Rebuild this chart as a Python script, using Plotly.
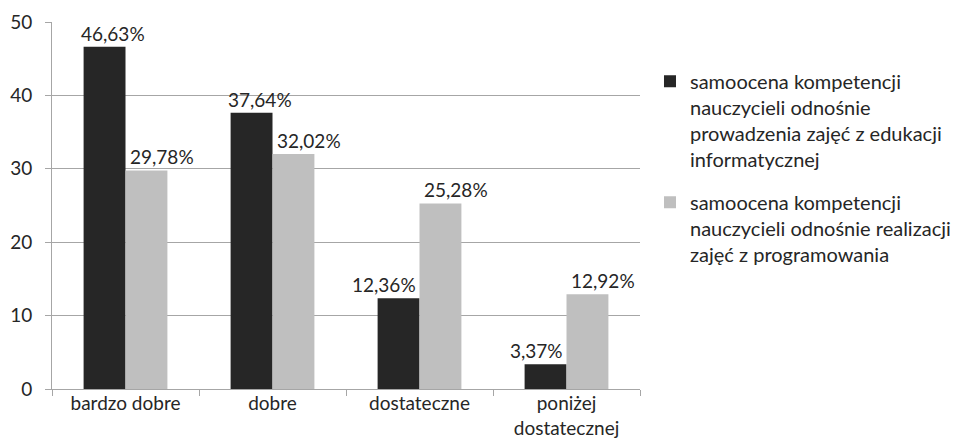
import plotly.graph_objects as go

categories = ["bardzo dobre", "dobre", "dostateczne", "poniżej<br>dostatecznej"]
series1_name = "samoocena kompetencji<br>nauczycieli odnośnie<br>prowadzenia zajęć z edukacji<br>informatycznej"
series2_name = "samoocena kompetencji<br>nauczycieli odnośnie realizacji<br>zajęć z programowania"
series1 = [46.63, 37.64, 12.36, 3.37]
series2 = [29.78, 32.02, 25.28, 12.92]
y_ticks = [0, 10, 20, 30, 40, 50]

FONT = "Lato"
TXT = "#262626"
COLORS = ["#262626", "#BFBFBF"]
BAR_PX = 42  # approximate pixel width of one bar

fig = go.Figure()
for vals, name, grp, col in [(series1, series1_name, "a", COLORS[0]),
                             (series2, series2_name, "b", COLORS[1])]:
    fig.add_trace(go.Bar(
        x=categories, y=vals, name=name, legendgroup=grp,
        marker=dict(color=col, line=dict(width=0)),
    ))

def fmt(v):
    return f"{v:.2f}".replace(".", ",") + "%"

# value labels (Excel-like placement that avoids the neighbouring bar)
for c, v1, v2 in zip(categories, series1, series2):
    if v2 > v1:
        fig.add_annotation(x=c, y=v1, text=fmt(v1), showarrow=False,
                           xanchor="right", yanchor="bottom", xshift=-2, yshift=0,
                           font=dict(family=FONT, size=19, color=TXT))
    else:
        fig.add_annotation(x=c, y=v1, text=fmt(v1), showarrow=False,
                           xanchor="center", yanchor="bottom",
                           xshift=-BAR_PX / 2 + 8, yshift=0,
                           font=dict(family=FONT, size=19, color=TXT))
    fig.add_annotation(x=c, y=v2, text=fmt(v2), showarrow=False,
                       xanchor="left", yanchor="bottom", xshift=2, yshift=0,
                       font=dict(family=FONT, size=19, color=TXT))

fig.update_layout(
    width=963, height=441,
    margin=dict(l=52, r=323, t=22, b=52, autoexpand=False),
    paper_bgcolor="white", plot_bgcolor="white",
    barmode="group", bargap=0.43, bargroupgap=0,
    font=dict(family=FONT, size=19, color=TXT),
    showlegend=True,
    legend=dict(
        x=1.017, y=0.892, xanchor="left", yanchor="top",
        font=dict(family=FONT, size=20, color=TXT),
        tracegroupgap=14, itemwidth=30, traceorder="grouped", valign="top",
        bgcolor="rgba(0,0,0,0)",
    ),
)
fig.update_xaxes(
    showgrid=False, showline=True, linecolor="#A6A6A6", linewidth=1,
    ticks="outside", tickson="boundaries", ticklen=6, tickcolor="#A6A6A6",
    tickfont=dict(family=FONT, size=19, color=TXT), automargin=False,
    ticklabelstandoff=-3,
)
fig.update_yaxes(
    range=[0, 50], tickvals=y_ticks, showgrid=True, gridcolor="#A6A6A6", gridwidth=1,
    showline=True, linecolor="#A6A6A6", linewidth=1,
    ticks="outside", ticklen=6, tickcolor="#A6A6A6",
    tickfont=dict(family=FONT, size=19, color=TXT), zeroline=False, automargin=False,
    ticklabelstandoff=9,
)

fig.write_html("out.html")
